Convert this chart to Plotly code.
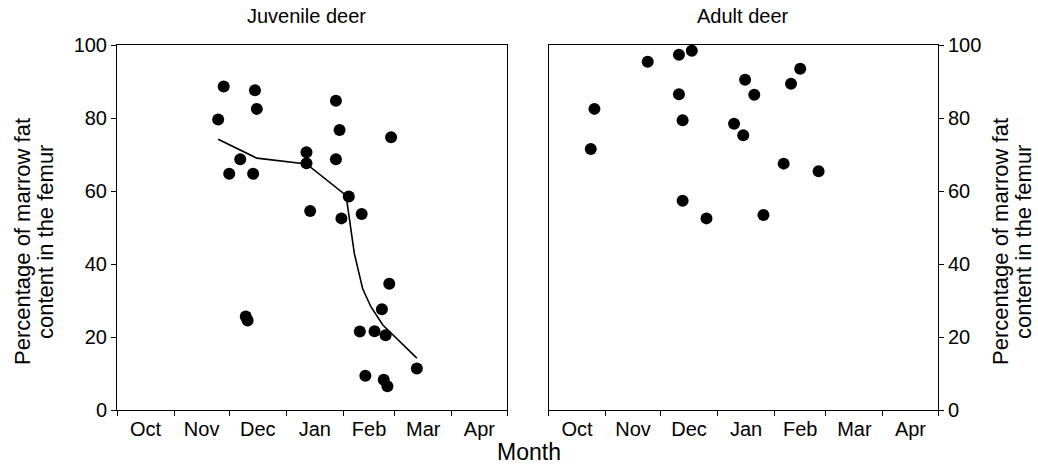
import plotly.graph_objects as go

# ---- Data ----
juv_dates = ["2000-11-28", "2000-12-15", "2000-12-16", "2000-11-25", "2001-01-28", "2001-01-30",
             "2001-02-27", "2000-12-07", "2001-01-12", "2001-01-12", "2001-01-28", "2000-12-01",
             "2000-12-14", "2001-02-04", "2001-01-14", "2001-01-31", "2001-02-11", "2000-12-10",
             "2000-12-11", "2001-02-26", "2001-02-22", "2001-02-10", "2001-02-18", "2001-02-24",
             "2001-03-13", "2001-02-13", "2001-02-23", "2001-02-25"]
juv_fat = [88.6, 87.6, 82.5, 79.6, 84.7, 76.7, 74.7, 68.7, 70.6, 67.6, 68.7, 64.7,
           64.7, 58.5, 54.5, 52.5, 53.7, 25.6, 24.5, 34.6, 27.6, 21.5, 21.6, 20.5,
           11.4, 9.4, 8.3, 6.5]

trend_dates = ["2000-11-25", "2000-12-16", "2001-01-12", "2001-02-01", "2001-02-03",
               "2001-02-07", "2001-02-11 12:00", "2001-02-16", "2001-02-22 12:00", "2001-03-13"]
trend_fat = [74.2, 69.0, 67.4, 59.4, 57.1, 42.9, 33.3, 28.3, 23.3, 14.2]

adult_dates = ["2000-10-26", "2000-10-24", "2000-11-24", "2000-12-11", "2000-12-18", "2000-12-11",
               "2000-12-13", "2000-12-13", "2000-12-26", "2001-01-16", "2001-01-21", "2001-01-10",
               "2001-01-15", "2001-01-26", "2001-02-15", "2001-02-10", "2001-02-06", "2001-02-25"]
adult_fat = [82.5, 71.5, 95.4, 97.3, 98.4, 86.5, 79.4, 57.3, 52.5, 90.5, 86.4, 78.4,
             75.3, 53.4, 93.5, 89.4, 67.5, 65.4]

x_range = ["2000-10-01", "2001-05-01"]
y_ticks = [0, 20, 40, 60, 80, 100]
panel_titles = ["Juvenile deer", "Adult deer"]
y_title_lines = ["Percentage of marrow fat", "content in the femur"]
x_title = "Month"

FONT = "Liberation Sans, Arial, sans-serif"
W, H = 1038, 468


def px_x(p):
    return p / W


def px_y(p):
    return 1 - p / H


fig = go.Figure()
fig.add_trace(go.Scatter(x=juv_dates, y=juv_fat, mode="markers",
                         marker=dict(color="black", size=12, line=dict(width=0)),
                         xaxis="x", yaxis="y", showlegend=False))
fig.add_trace(go.Scatter(x=trend_dates, y=trend_fat, mode="lines",
                         line=dict(color="black", width=1.6),
                         xaxis="x", yaxis="y", showlegend=False))
fig.add_trace(go.Scatter(x=adult_dates, y=adult_fat, mode="markers",
                         marker=dict(color="black", size=12, line=dict(width=0)),
                         xaxis="x2", yaxis="y2", showlegend=False))

ydom = [px_y(410), px_y(45)]
xdom1 = [px_x(117), px_x(507)]
xdom2 = [px_x(548.5), px_x(938)]

common = dict(showline=True, linecolor="black", linewidth=1, mirror=True,
              ticks="outside", ticklen=5, tickwidth=1, tickcolor="black",
              showgrid=False, zeroline=False, automargin=False,
              tickfont=dict(family=FONT, size=20, color="black"))

xcommon = dict(common, type="date", range=x_range, dtick="M1", tick0="2000-10-01",
               tickformat="%b", ticklabelmode="period", ticklabelstandoff=-4)
ycommon = dict(common, range=[0, 100], tickmode="array", tickvals=y_ticks)

fig.update_layout(
    width=W, height=H,
    margin=dict(l=0, r=0, t=0, b=0),
    paper_bgcolor="white", plot_bgcolor="white",
    font=dict(family=FONT, color="black"),
    xaxis=dict(xcommon, domain=xdom1, anchor="y"),
    yaxis=dict(ycommon, domain=ydom, anchor="x", side="left"),
    xaxis2=dict(xcommon, domain=xdom2, anchor="y2"),
    yaxis2=dict(ycommon, domain=ydom, anchor="x2", side="right"),
)

ann = []
base = dict(xref="paper", yref="paper", showarrow=False, xanchor="center", yanchor="middle")
ann.append(dict(base, text=panel_titles[0], x=px_x(306), y=px_y(16), font=dict(size=20)))
ann.append(dict(base, text=panel_titles[1], x=px_x(743), y=px_y(16), font=dict(size=20)))
ann.append(dict(base, text=x_title, x=px_x(529), y=px_y(452), font=dict(size=23)))
ymid = px_y(242)
for i, line in enumerate(y_title_lines):
    ann.append(dict(base, text=line, x=px_x(22 + 23 * i), y=ymid, textangle=-90,
                    font=dict(size=22)))
    ann.append(dict(base, text=line, x=px_x(1000 + 23 * i), y=ymid, textangle=-90,
                    font=dict(size=22)))
fig.update_layout(annotations=ann)

fig.write_html("out.html", config={"displayModeBar": False},
               post_script="document.body.style.margin='0px';")
